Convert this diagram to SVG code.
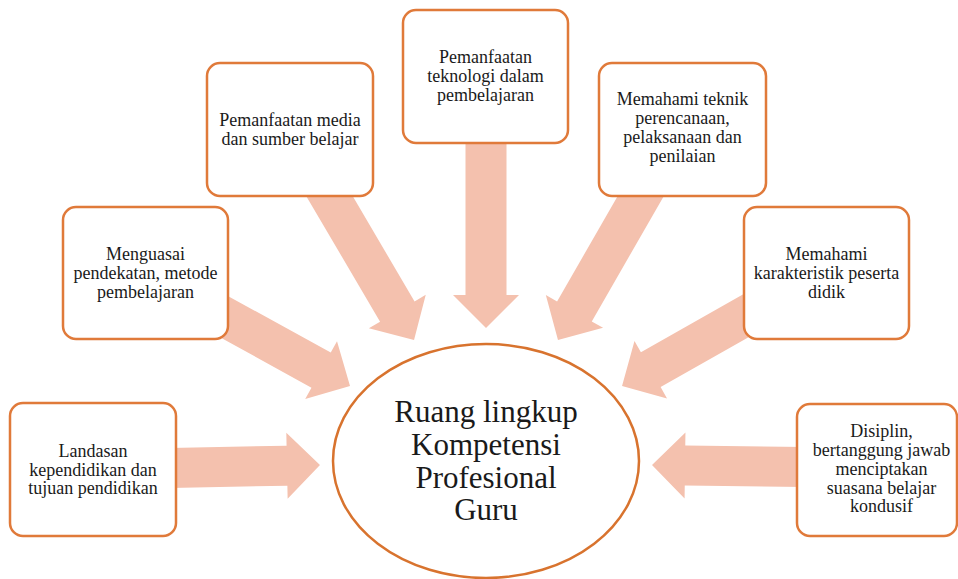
<svg xmlns="http://www.w3.org/2000/svg" width="958" height="579" viewBox="0 0 958 579">
  <defs>
    <style>
      .box { fill: #ffffff; stroke: #E07A3A; stroke-width: 2.5; }
      .arr { fill: #F4C1AE; }
      .t { font-family: "Liberation Serif", "Times New Roman", serif; font-size: 18px; fill: #1a1a1a; text-anchor: middle; }
      .big { font-family: "Liberation Serif", "Times New Roman", serif; font-size: 31px; fill: #1a1a1a; text-anchor: middle; }
    </style>
    <polygon id="arrowShape" points="0,-20 -33,-20 -33,-33 0,0 -33,33 -33,20 0,20"/>
  </defs>
  <rect x="0" y="0" width="958" height="579" fill="#ffffff"/>

  <g id="connectors">
    <!-- each arrow: shaft from start to (L-33), head to tip at L -->
    <polygon class="arr" transform="translate(170,468) rotate(-1.15)" points="0,-20 117,-20 117,-33 150,0 117,33 117,20 0,20"/>
    <polygon class="arr" transform="translate(210,309) rotate(28.81)" points="0,-20 126.8,-20 126.8,-33 159.8,0 126.8,33 126.8,20 0,20"/>
    <polygon class="arr" transform="translate(320,180) rotate(59.56)" points="0,-20 152.6,-20 152.6,-33 185.6,0 152.6,33 152.6,20 0,20"/>
    <polygon class="arr" transform="translate(486,140) rotate(90)" points="0,-20.5 155,-20.5 155,-33 188,0 155,33 155,20.5 0,20.5"/>
    <polygon class="arr" transform="translate(650,180) rotate(119.9)" points="0,-20 151.6,-20 151.6,-33 184.6,0 151.6,33 151.6,20 0,20"/>
    <polygon class="arr" transform="translate(765,305) rotate(150.47)" points="0,-20 131.3,-20 131.3,-33 164.3,0 131.3,33 131.3,20 0,20"/>
    <polygon class="arr" transform="translate(805,467) rotate(180.75)" points="0,-20 120,-20 120,-33 153,0 120,33 120,20 0,20"/>
  </g>

  <g id="center">
    <ellipse cx="486" cy="461" rx="153" ry="117" fill="none" stroke="#D8732E" stroke-width="2.5"/>
    <text class="big" x="486" y="422">Ruang lingkup</text>
    <text class="big" x="486" y="455">Kompetensi</text>
    <text class="big" x="486" y="488">Profesional</text>
    <text class="big" x="486" y="520">Guru</text>
  </g>

  <g id="node-landasan">
    <rect class="box" x="10" y="403" width="166" height="133" rx="13"/>
    <text class="t" x="93" y="457">Landasan</text>
    <text class="t" x="93" y="475.5">kependidikan dan</text>
    <text class="t" x="93" y="494">tujuan pendidikan</text>
  </g>

  <g id="node-menguasai">
    <rect class="box" x="63" y="207" width="165" height="132" rx="13"/>
    <text class="t" x="145.5" y="260">Menguasai</text>
    <text class="t" x="145.5" y="279">pendekatan, metode</text>
    <text class="t" x="145.5" y="298">pembelajaran</text>
  </g>

  <g id="node-media">
    <rect class="box" x="207" y="63" width="166" height="133" rx="13"/>
    <text class="t" x="290" y="126">Pemanfaatan media</text>
    <text class="t" x="290" y="144.5">dan sumber belajar</text>
  </g>

  <g id="node-teknologi">
    <rect class="box" x="403" y="10" width="165" height="133" rx="13"/>
    <text class="t" x="485.5" y="63">Pemanfaatan</text>
    <text class="t" x="485.5" y="82">teknologi dalam</text>
    <text class="t" x="485.5" y="100.5">pembelajaran</text>
  </g>

  <g id="node-teknik">
    <rect class="box" x="599" y="63" width="167" height="133" rx="13"/>
    <text class="t" x="682.5" y="105">Memahami teknik</text>
    <text class="t" x="682.5" y="124">perencanaan,</text>
    <text class="t" x="682.5" y="143">pelaksanaan dan</text>
    <text class="t" x="682.5" y="162">penilaian</text>
  </g>

  <g id="node-karakteristik">
    <rect class="box" x="744" y="207" width="165" height="132" rx="13"/>
    <text class="t" x="826.5" y="260">Memahami</text>
    <text class="t" x="826.5" y="279">karakteristik peserta</text>
    <text class="t" x="826.5" y="298">didik</text>
  </g>

  <g id="node-disiplin">
    <rect class="box" x="797" y="404" width="160" height="132" rx="13"/>
    <text class="t" x="881.5" y="437">Disiplin,</text>
    <text class="t" x="881.5" y="456">bertanggung jawab</text>
    <text class="t" x="881.5" y="475">menciptakan</text>
    <text class="t" x="881.5" y="493.5">suasana belajar</text>
    <text class="t" x="881.5" y="512">kondusif</text>
  </g>
</svg>
